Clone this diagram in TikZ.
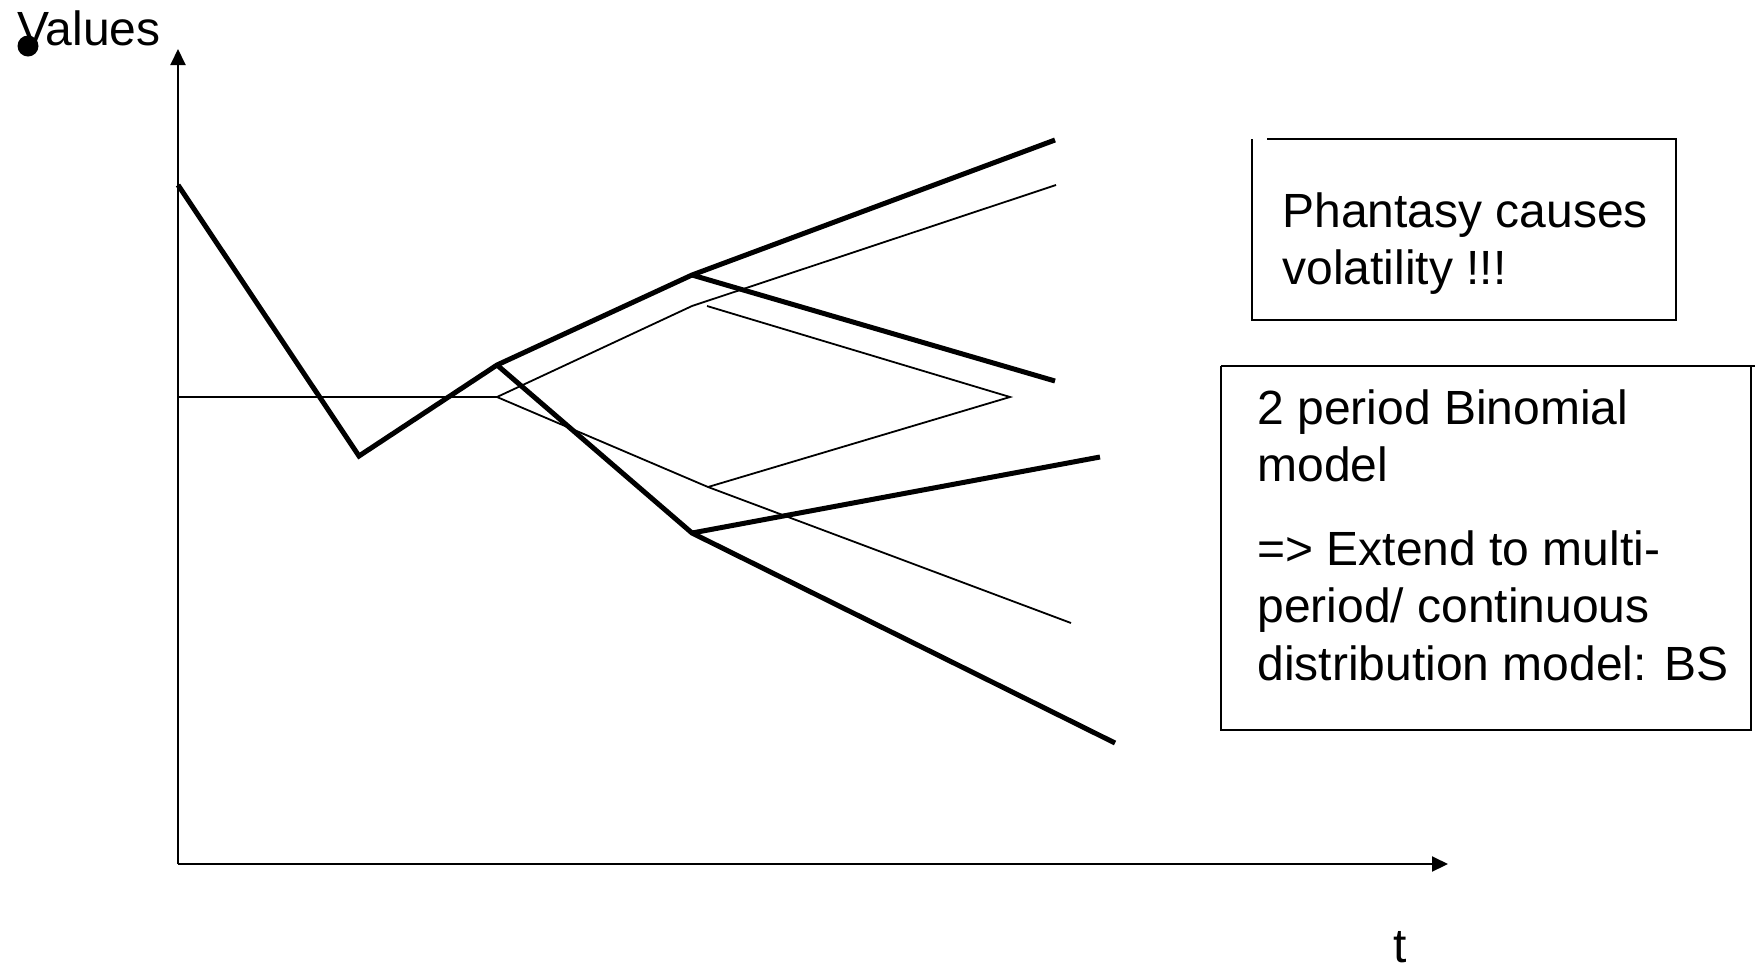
\documentclass[tikz,border=0pt]{standalone}
\usepackage{fontspec}
\setmainfont{Liberation Sans}
\usetikzlibrary{arrows.meta}
\begin{document}
\begin{tikzpicture}[x=0.5pt,y=-0.5pt,
  axisline/.style={line width=1pt,-{Triangle[length=8pt,width=7.5pt]}},
  thickline/.style={line width=2.5pt,line join=miter},
  thinline/.style={line width=0.9pt,line join=miter},
  boxline/.style={line width=1pt},
  lbl/.style={anchor=base west,inner sep=0pt,font=\fontsize{24pt}{28.8pt}\selectfont}]
\useasboundingbox (0,0) rectangle (1755,970);
% axes
\coordinate (O) at (178,864);
\coordinate (Ytip) at (178,49);
\coordinate (Xtip) at (1448,864);
\draw[axisline] (O) -- (Ytip);
\draw[axisline] (O) -- (Xtip);
\node[lbl] (values) at (17,45) {Values};
\node[circle,fill=black,inner sep=0pt,minimum size=10.5pt] (dot) at (28,46) {};
\node[lbl] (t) at (1393,962) {t};
% thick paths
\coordinate (A) at (178,185);
\coordinate (B) at (359,456);
\coordinate (C) at (497,365);
\coordinate (D) at (692,275);
\coordinate (E) at (1055,140);
\coordinate (G) at (1055,381);
\coordinate (F) at (692,533);
\coordinate (H) at (1115,743);
\coordinate (I) at (1100,457);
\draw[thickline] (A) -- (B) -- (C) -- (D) -- (E);
\draw[thickline] (D) -- (G);
\draw[thickline] (C) -- (F) -- (H);
\draw[thickline] (F) -- (I);
% thin paths
\coordinate (J) at (178,397);
\coordinate (K) at (497,397);
\coordinate (L) at (692,306);
\coordinate (M) at (1056,185);
\coordinate (N) at (708,487);
\coordinate (P) at (1071,623);
\coordinate (Q) at (707,306);
\coordinate (R) at (1010,397);
\draw[thinline] (J) -- (K) -- (L) -- (M);
\draw[thinline] (K) -- (N) -- (P);
\draw[thinline] (Q) -- (R) -- (N);
% box 1
\coordinate (b1a) at (1267,139);
\coordinate (b1b) at (1676,139);
\coordinate (b1c) at (1676,320);
\coordinate (b1d) at (1252,320);
\coordinate (b1e) at (1252,139);
\draw[boxline] (b1a) -- (b1b) -- (b1c) -- (b1d) -- (b1e);
\node[lbl] (p1) at (1282,227) {Phantasy causes};
\node[lbl] (p2) at (1282,284) {volatility !!!};
% box 2
\coordinate (b2a) at (1221,366);
\coordinate (b2b) at (1755,366);
\coordinate (b2c) at (1751,366);
\coordinate (b2d) at (1751,730);
\coordinate (b2e) at (1221,730);
\draw[boxline] (b2a) -- (b2b);
\draw[boxline] (b2c) -- (b2d) -- (b2e) -- (b2a);
\node[lbl] (q1) at (1257,424) {2 period Binomial};
\node[lbl] (q2) at (1257,481) {model};
\node[lbl] (q3) at (1257,565) {=> Extend to multi-};
\node[lbl] (q4) at (1257,622) {period/ continuous};
\node[lbl] (q5) at (1257,680) {distribution model: BS};
\end{tikzpicture}
\end{document}
